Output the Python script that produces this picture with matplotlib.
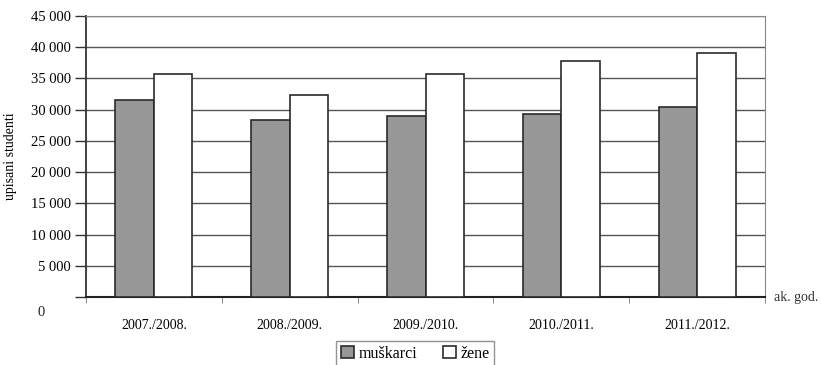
import numpy as np
import matplotlib.pyplot as plt
from matplotlib.ticker import FuncFormatter

years = ['2007./2008.', '2008./2009.', '2009./2010.', '2010./2011.', '2011./2012.']
muskarci = [31600, 28400, 29000, 29300, 30400]
zene = [35700, 32400, 35700, 37800, 39100]
yticks = [0, 5000, 10000, 15000, 20000, 25000, 30000, 35000, 40000, 45000]

plt.rcParams['font.family'] = ['Liberation Serif', 'DejaVu Serif']

fig = plt.figure(figsize=(8.22, 3.65), dpi=100)
ax = fig.add_axes([0.1046, 0.1863, 0.8261, 0.7697])

x = np.arange(len(years))
w = 0.284
ax.bar(x - w / 2, muskarci, w, color='#979797', edgecolor='#2a2a2a', linewidth=1.2,
       label='muškarci', zorder=3)
ax.bar(x + w / 2, zene, w, color='white', edgecolor='#2a2a2a', linewidth=1.2,
       label='žene', zorder=3)

ax.set_xlim(-0.5, len(years) - 0.5)
ax.set_ylim(0, 45000)
ax.set_yticks(yticks)
ax.yaxis.set_major_formatter(FuncFormatter(
    lambda v, p: '' if v == 0 else f'{int(v):,}'.replace(',', ' ')))
ax.grid(axis='y', color='#555555', linewidth=1.0, zorder=0)
ax.tick_params(axis='y', direction='out', length=8, width=1, color='#333333',
               labelsize=10.5, pad=3)
# zero label sits lower than the axis line in the original
ax.text(-0.06, -0.055, '0', transform=ax.transAxes, ha='right', va='center',
        fontsize=10.5, color='#222222')

ax.set_xticks(x)
ax.set_xticklabels(years, fontsize=10)
ax.set_xticks(np.arange(len(years) + 1) - 0.5, minor=True)
ax.tick_params(axis='x', which='major', length=0, pad=16)
ax.tick_params(axis='x', which='minor', direction='out', length=4, color='#777777')

for s in ['top', 'right']:
    ax.spines[s].set_color('#888888')
ax.spines['left'].set_color('#333333')
ax.spines['left'].set_linewidth(1.3)
ax.spines['bottom'].set_color('#222222')
ax.spines['bottom'].set_linewidth(1.5)

ax.set_ylabel('upisani studenti', fontsize=10, labelpad=10)
ax.text(1.013, 0.0, 'ak. god.', transform=ax.transAxes, ha='left', va='center',
        fontsize=10, color='#333333')

ax.legend(loc='upper center', bbox_to_anchor=(0.485, -0.128), ncol=2,
          prop={'family': 'Liberation Serif', 'size': 11.5},
          frameon=True, fancybox=False, edgecolor='#777777', handlelength=0.8,
          handleheight=0.8, handletextpad=0.3, columnspacing=1.6, borderpad=0.3)

fig.savefig('out.png', dpi=100)
